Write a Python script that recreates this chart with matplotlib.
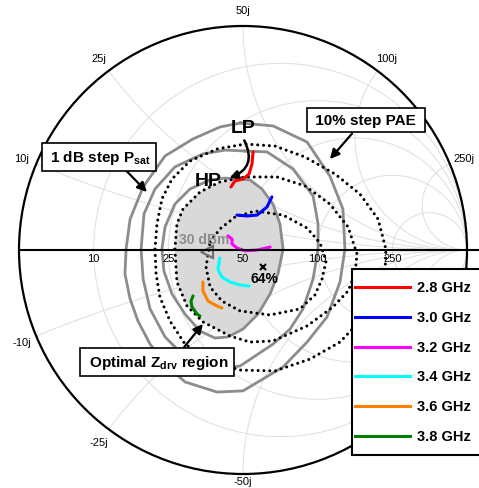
import numpy as np
import matplotlib.pyplot as plt
from matplotlib.patches import Circle, Polygon, FancyArrowPatch, Rectangle

plt.rcParams['font.family'] = ['Liberation Sans', 'DejaVu Sans']
plt.rcParams['mathtext.fontset'] = 'custom'
plt.rcParams['mathtext.rm'] = 'Liberation Sans'
plt.rcParams['mathtext.bf'] = 'Liberation Sans:bold'

# Smith chart grid (ohm, Z0 = 50)
Z0 = 50
r_grid = [10, 25, 50, 100, 250]
x_grid = [10, 25, 50, 100, 250]

# Psat contours, 1 dB step (reflection coefficient, outer -> inner)
psat_outer_re = [-0.013, 0.134, 0.286, 0.388, 0.446, 0.455, 0.433, 0.375, 0.286, 0.179, 0.000, -0.116,
                 -0.259, -0.348, -0.415, -0.469, -0.504, -0.527, -0.522, -0.504, -0.446, -0.348, -0.223, -0.103]
psat_outer_im = [0.567, 0.554, 0.482, 0.330, 0.183, 0.004, -0.143, -0.299, -0.411, -0.522, -0.629, -0.634,
                 -0.589, -0.509, -0.420, -0.317, -0.219, -0.107, 0.004, 0.138, 0.281, 0.420, 0.496, 0.549]
psat_mid_re = [0.009, 0.107, 0.223, 0.313, 0.335, 0.335, 0.313, 0.268, 0.210, 0.134, -0.013,
               -0.147, -0.250, -0.348, -0.415, -0.446, -0.455, -0.442, -0.393, -0.304, -0.179, -0.080]
psat_mid_im = [0.442, 0.438, 0.362, 0.241, 0.116, 0.004, -0.129, -0.263, -0.353, -0.420, -0.518,
               -0.531, -0.487, -0.388, -0.263, -0.129, 0.004, 0.161, 0.272, 0.371, 0.429, 0.446]
psat_in_re = [-0.027, 0.031, 0.085, 0.134, 0.165, 0.179, 0.156, 0.121, 0.067, 0.000, -0.067,
              -0.125, -0.192, -0.259, -0.317, -0.353, -0.362, -0.348, -0.304, -0.237, -0.147, -0.080]
psat_in_im = [0.317, 0.313, 0.272, 0.205, 0.116, 0.004, -0.107, -0.196, -0.286, -0.353, -0.388,
              -0.393, -0.362, -0.286, -0.196, -0.094, 0.004, 0.103, 0.205, 0.272, 0.313, 0.321]

# PAE contours, 10 % step (inner -> outer)
pae_1_re = [-0.147, -0.103, -0.036, 0.054, 0.179, 0.286, 0.344, 0.371, 0.353, 0.321, 0.254, 0.121,
            -0.013, -0.094, -0.147, -0.165]
pae_1_im = [0.036, 0.094, 0.147, 0.174, 0.156, 0.098, 0.031, -0.049, -0.129, -0.201, -0.263, -0.290,
            -0.272, -0.228, -0.165, -0.076]
pae_2_re = [-0.304, -0.295, -0.268, -0.192, -0.103, 0.009, 0.152, 0.277, 0.388, 0.469, 0.509, 0.500,
            0.469, 0.402, 0.286, 0.134, 0.031, -0.058, -0.179, -0.250, -0.295]
pae_2_im = [0.004, 0.116, 0.183, 0.259, 0.304, 0.326, 0.326, 0.286, 0.205, 0.103, -0.018, -0.107,
            -0.183, -0.254, -0.339, -0.406, -0.411, -0.384, -0.321, -0.250, -0.143]
pae_3_re = [-0.393, -0.384, -0.362, -0.317, -0.237, -0.116, 0.009, 0.143, 0.277, 0.411, 0.522, 0.603,
            0.638, 0.634, 0.589, 0.522, 0.433, 0.299, 0.143, -0.013, -0.147, -0.259, -0.326, -0.371, -0.388]
pae_3_im = [0.004, 0.116, 0.228, 0.317, 0.397, 0.451, 0.473, 0.464, 0.415, 0.339, 0.250, 0.138,
            0.004, -0.107, -0.219, -0.317, -0.411, -0.487, -0.540, -0.536, -0.496, -0.420, -0.317, -0.210, -0.107]

# optimum drive impedance trajectories per frequency
freqs = [2.8, 3.0, 3.2, 3.4, 3.6, 3.8]
colors = ['#ff0000', '#0000ff', '#ff00ff', '#00ffff', '#ff8000', '#008000']
traj_re = [
    [0.045, 0.040, 0.027, 0.000, -0.036, -0.054],
    [0.129, 0.107, 0.063, 0.018, -0.027],
    [-0.067, -0.049, -0.049, -0.027, 0.009, 0.063, 0.121],
    [-0.103, -0.112, -0.094, -0.058, -0.013, 0.027],
    [-0.179, -0.179, -0.156, -0.116, -0.094],
    [-0.223, -0.232, -0.228, -0.205, -0.192],
]
traj_im = [
    [0.438, 0.384, 0.339, 0.317, 0.308, 0.281],
    [0.237, 0.192, 0.156, 0.152, 0.156],
    [0.063, 0.049, 0.027, 0.009, -0.004, 0.000, 0.013],
    [-0.036, -0.085, -0.121, -0.143, -0.156, -0.161],
    [-0.143, -0.183, -0.228, -0.250, -0.259],
    [-0.205, -0.228, -0.254, -0.286, -0.295],
]

psat_max = (-0.161, -0.009)
pae_max = (0.089, -0.076)

gray = '#8c8c8c'
grid_c = '#dedede'

fig = plt.figure(figsize=(4.79, 4.89), dpi=100)
ax = fig.add_axes([0, 0, 1, 1])
ax.set_xlim(-243 / 224, 236 / 224)
ax.set_ylim(-238 / 224, 251 / 224)
ax.axis('off')

unit = Circle((0, 0), 1, transform=ax.transData)
for r in r_grid:
    rn = r / Z0
    ax.add_patch(Circle((rn / (1 + rn), 0), 1 / (1 + rn), fill=False, ec=grid_c, lw=0.7, zorder=0))
for x in x_grid:
    xn = x / Z0
    for s in (1, -1):
        c = Circle((1, s / xn), 1 / xn, fill=False, ec=grid_c, lw=0.7, zorder=0)
        ax.add_patch(c)
        c.set_clip_path(unit)

# grid labels (the two lower right ones sit under the legend)
for r in r_grid:
    rn = r / Z0
    ax.text((rn - 1) / (rn + 1), -0.015, str(r), ha='center', va='top', fontsize=8)
for x in x_grid:
    xn = x / Z0
    for s in (1, -1):
        if s < 0 and x >= 100:
            continue
        g = (1j * s * xn - 1) / (1j * s * xn + 1)
        f = 1.03 if (s < 0 and x == 50) else 1.07
        lab = f'{x}j' if s > 0 else f'-{x}j'
        ax.text(g.real * f, g.imag * f, lab, ha='center', va='center', fontsize=8)

# optimal region: inner Psat contour limited by second PAE contour
shade = ax.fill(psat_in_re, psat_in_im, color='#d9d9d9', zorder=1)[0]
shade.set_clip_path(Polygon(np.column_stack([pae_2_re, pae_2_im]), closed=True, transform=ax.transData))

for xs, ys in [(psat_outer_re, psat_outer_im), (psat_mid_re, psat_mid_im), (psat_in_re, psat_in_im)]:
    ax.plot(xs + xs[:1], ys + ys[:1], color=gray, lw=2.0, zorder=2)
for xs, ys in [(pae_1_re, pae_1_im), (pae_2_re, pae_2_im), (pae_3_re, pae_3_im)]:
    ax.plot(xs + xs[:1], ys + ys[:1], color='k', lw=2.2, ls=(0, (0.01, 1.9)),
            dash_capstyle='round', zorder=3)

for f, c, xs, ys in zip(freqs, colors, traj_re, traj_im):
    ax.plot(xs, ys, color=c, lw=2.2, solid_capstyle='round', zorder=4)

ax.plot(*psat_max, marker='<', ms=8, mfc='none', mec='#707070', mew=1.6, zorder=5)
ax.text(psat_max[0] - 0.013, psat_max[1] + 0.058, '30 dBm', color='#8c8c8c', fontsize=10,
        fontweight='bold', ha='center', va='center', zorder=5)
ax.plot(*pae_max, marker='x', ms=4, color='k', mew=1.5, zorder=5)
ax.text(pae_max[0] + 0.005, pae_max[1] - 0.05, '64%', fontsize=10, fontweight='bold',
        ha='center', va='center', zorder=5)

ax.plot([-1, 1.06], [0, 0], color='k', lw=1.5, zorder=6)
ax.add_patch(Circle((0, 0), 1, fill=False, ec='k', lw=1.6, zorder=6))

# LP / HP
ax.text(0, 0.549, 'LP', fontsize=14, fontweight='bold', ha='center', va='center', zorder=7)
ax.text(-0.156, 0.31, 'HP', fontsize=14, fontweight='bold', ha='center', va='center', zorder=7)
ax.add_patch(FancyArrowPatch((0.0, 0.50), (-0.072, 0.318), connectionstyle='arc3,rad=-0.6',
                             arrowstyle='-|>', mutation_scale=12, lw=1.8, color='k', zorder=7))

box = dict(boxstyle='square,pad=0.3', fc='white', ec='k', lw=1.2)
arrow = dict(arrowstyle='-|>', color='k', lw=1.6, mutation_scale=14, shrinkA=0, shrinkB=0)
ax.annotate('', xy=(-0.429, 0.259), xytext=(-0.527, 0.36), arrowprops=arrow, zorder=7)
ax.text(-0.643, 0.415, r' 1 dB step P$_{\mathbf{sat}}$ ', fontsize=11, fontweight='bold',
        ha='center', va='center', bbox=box, zorder=8)
ax.annotate('', xy=(0.388, 0.406), xytext=(0.487, 0.52), arrowprops=arrow, zorder=7)
ax.text(0.549, 0.580, ' 10% step PAE ', fontsize=11, fontweight='bold',
        ha='center', va='center', bbox=box, zorder=8)
ax.annotate('', xy=(-0.179, -0.330), xytext=(-0.272, -0.445), arrowprops=arrow, zorder=7)
ax.text(-0.384, -0.500, r' Optimal Z$_{\mathbf{drv}}$ region ', fontsize=11, fontweight='bold',
        ha='center', va='center', bbox=box, zorder=8)

# legend
W, H = 479, 489
ax.add_patch(Rectangle((352 / W, 1 - 456 / H), 140 / W, 186 / H, transform=ax.transAxes,
                       fc='white', ec='k', lw=1.5, zorder=9, clip_on=False))
for i, (f, c) in enumerate(zip(freqs, colors)):
    yy = 1 - (288 + 29.8 * i) / H
    ax.plot([355 / W, 410 / W], [yy, yy], color=c, lw=2.2, transform=ax.transAxes, zorder=10)
    ax.text(417 / W, yy, f'{f:.1f} GHz', fontsize=10.5, fontweight='bold', va='center',
            transform=ax.transAxes, zorder=10)

fig.savefig('out.png', dpi=100)
